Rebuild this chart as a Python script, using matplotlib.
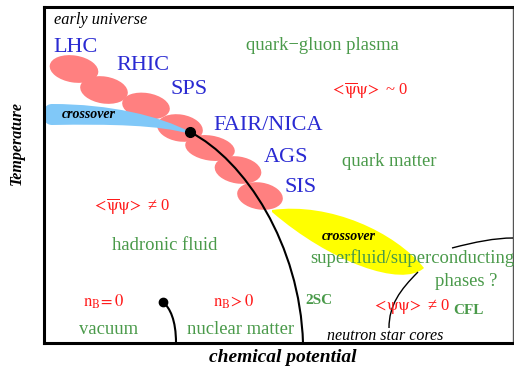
import matplotlib

matplotlib.use("Agg")

import matplotlib.pyplot as plt
from matplotlib.patches import Ellipse, PathPatch
from matplotlib.path import Path

plt.rcParams["font.family"] = ["Liberation Serif", "DejaVu Serif"]
plt.rcParams["mathtext.fontset"] = "stix"

# schematic in pixel-like coordinates (x right, y down)
blob_x = [74, 104, 146, 180, 210, 238, 260]
blob_y = [69, 90, 106, 128, 148, 170, 196]
blob_w = [49, 48, 48, 46, 50, 47, 46]
blob_h = [27, 27, 26, 27, 25, 27, 27]

facilities = ["LHC", "RHIC", "SPS", "FAIR/NICA", "AGS", "SIS"]
fac_x = [53, 116, 171, 213, 264, 284]
fac_y = [48, 65, 90, 125, 157, 188]

critical_pt = (190, 132)
liquid_gas_pt = (163, 302)

# bezier control points for the lines
crit_line = [(190, 132), (245, 160), (300, 245), (303, 343)]
lg_line = [(163, 302), (170, 308), (176, 320), (176, 343)]
ns_line = [(418, 272), (400, 290), (389, 305), (389, 328)]
csc_line = [(452, 248), (475, 242), (495, 238), (513, 238)]

blue_band = [(190, 132), (160, 116), (110, 104), (52, 104),
             (40, 104), (40, 125), (52, 125),
             (110, 124), (160, 125), (190, 134)]
yellow_leaf = [(272, 210), (330, 202), (395, 232), (424, 268),
               (402, 288), (330, 262), (272, 212)]

blue = "#2a2ad2"
green = "#4a9a4a"
red = "#ff1a1a"

fig = plt.figure(figsize=(5.14, 3.69), dpi=100)
ax = fig.add_axes([44 / 514, 1 - 343 / 369, 469 / 514, 336 / 369])
ax.set_xlim(44, 513)
ax.set_ylim(343, 7)
ax.set_xticks([])
ax.set_yticks([])
for side in ["left", "bottom", "top"]:
    ax.spines[side].set_linewidth(2.2)
ax.spines["right"].set_linewidth(1)
ax.spines["right"].set_color("#555555")

for x, y, w, h in zip(blob_x, blob_y, blob_w, blob_h):
    ax.add_patch(Ellipse((x, y), w, h, angle=9, color="#ff8080", lw=0, zorder=1))

band_codes = [Path.MOVETO] + [Path.CURVE4] * 9
ax.add_patch(PathPatch(Path(blue_band + [blue_band[0]], band_codes + [Path.CLOSEPOLY]),
                       fc="#80c8f8", ec="none", zorder=2))
leaf_codes = [Path.MOVETO] + [Path.CURVE4] * 6
ax.add_patch(PathPatch(Path(yellow_leaf + [yellow_leaf[0]], leaf_codes + [Path.CLOSEPOLY]),
                       fc="#ffff00", ec="none", zorder=2))

curve_codes = [Path.MOVETO, Path.CURVE4, Path.CURVE4, Path.CURVE4]
ax.add_patch(PathPatch(Path(crit_line, curve_codes), fc="none", ec="black", lw=1.5, zorder=3))
ax.add_patch(PathPatch(Path(lg_line, curve_codes), fc="none", ec="black", lw=1.5, zorder=3))
ax.add_patch(PathPatch(Path(ns_line, curve_codes), fc="none", ec="black", lw=1, zorder=3))
ax.add_patch(PathPatch(Path(csc_line, curve_codes), fc="none", ec="black", lw=1, zorder=3))
ax.plot(*critical_pt, "o", color="black", ms=7, zorder=4)
ax.plot(*liquid_gas_pt, "o", color="black", ms=6, zorder=4)

for name, x, y in zip(facilities, fac_x, fac_y):
    ax.text(x, y, name, color=blue, fontsize=16, ha="left", va="center", zorder=5)

def label(x, y, s, color, size=13.4, **kw):
    ax.text(x, y, s, color=color, fontsize=size, ha="left", va="center", zorder=5, **kw)

psibar = r"$<\!\overline{\mathrm{\psi}}\mathrm{\psi}\!>$"
label(54, 20, "early universe", "black", 11.8, style="italic")
label(246, 45, "quark\u2212gluon plasma", green)
label(330, 91, psibar + " ~ 0", red, 12)
label(342, 162, "quark matter", green)
label(62, 114, "crossover", "black", 10, style="italic", weight="bold")
label(322, 236, "crossover", "black", 10, style="italic", weight="bold")
label(92, 207, psibar + " \u2260 0", red, 12)
label(112, 246, "hadronic fluid", green)
label(310, 258, "superfluid/superconducting", green)
label(435, 281, "phases ?", green)
label(83, 302, r"$\mathrm{n_B\!=0}$", red, 12)
label(213, 302, r"$\mathrm{n_B\!>0}$", red, 12)
label(305, 300, "2SC", green, 11, weight="bold")
label(372, 306, r"$<\!\mathrm{\psi\psi}\!>$" + " \u2260 0", red, 12)
label(453, 310, "CFL", green, 11, weight="bold")
label(79, 330, "vacuum", green)
label(187, 330, "nuclear matter", green)
label(327, 336, "neutron star cores", "black", 11.5, style="italic")

ax.text(17, 143, "Temperature", fontsize=11.5, style="italic", weight="bold",
        rotation=90, ha="center", va="center", clip_on=False)
ax.text(283, 358, "chemical potential", fontsize=14, style="italic", weight="bold",
        ha="center", va="center", clip_on=False)

fig.savefig("out.png", dpi=100)
plt.close(fig)
